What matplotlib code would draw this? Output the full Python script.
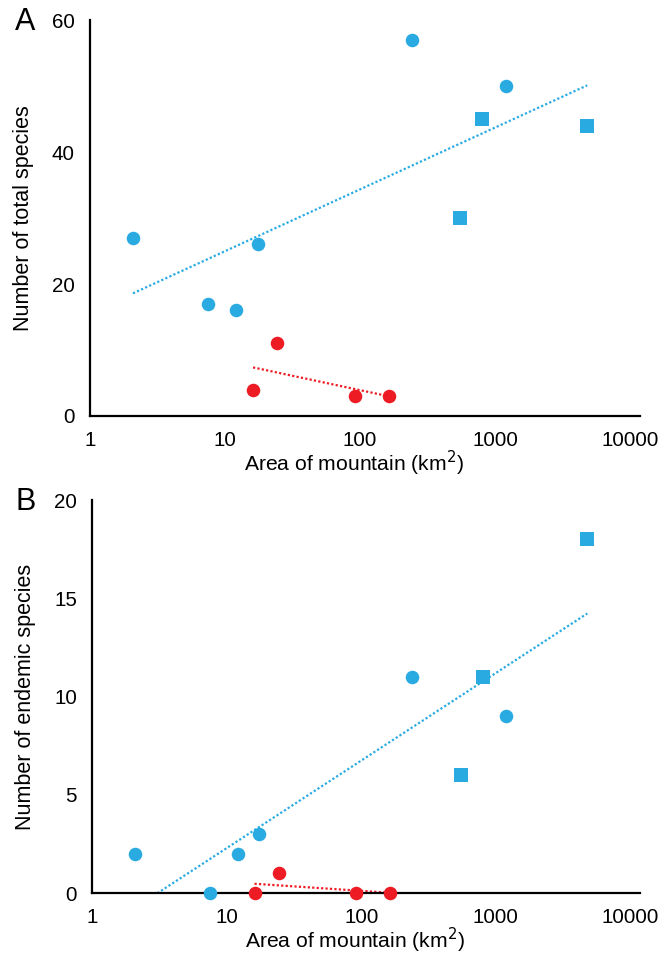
import numpy as np
import matplotlib.pyplot as plt

plt.rcParams['font.family'] = ['Liberation Sans', 'DejaVu Sans']

BLUE = '#29abe2'
RED = '#ed1c24'

# mountain areas (km2)
area_blue_circ = [2.08, 7.5, 12.1, 17.5, 240, 1200]
area_blue_sq = [800, 550, 4800]
area_red = [16.1, 24.3, 92, 164]

# panel A: total species
total_blue_circ = [27, 17, 16, 26, 57, 50]
total_blue_sq = [45, 30, 44]
total_red = [4, 11, 3, 3]

# panel B: endemic species
endemic_blue_circ = [2, 0, 2, 3, 11, 9]
endemic_blue_sq = [11, 6, 18]
endemic_red = [0, 1, 0, 0]

y_ticks_a = [0, 20, 40, 60]
y_ticks_b = [0, 5, 10, 15, 20]
x_ticks = [1, 10, 100, 1000, 10000]


def log_trend(ax, xs, ys, color):
    """Excel-style logarithmic trendline across the data range."""
    lx = np.log10(xs)
    slope, icpt = np.polyfit(lx, ys, 1)
    xx = np.array([min(xs), max(xs)])
    ax.plot(xx, icpt + slope * np.log10(xx), color=color, lw=1.6,
            ls=(0, (1, 1)), zorder=2)


def draw_panel(ax, circ, sq, red, yticks, ylabel, letter, letter_y):
    xb = area_blue_circ + area_blue_sq
    yb = circ + sq
    log_trend(ax, xb, yb, BLUE)
    log_trend(ax, area_red, red, RED)
    ax.scatter(area_blue_circ, circ, s=95, color=BLUE, marker='o', lw=0, zorder=3, clip_on=False)
    ax.scatter(area_blue_sq, sq, s=88, color=BLUE, marker='s', lw=0, zorder=3, clip_on=False)
    ax.scatter(area_red, red, s=95, color=RED, marker='o', lw=0, zorder=3, clip_on=False)

    ax.set_xscale('log')
    ax.set_xlim(1, 11800)
    ax.set_ylim(yticks[0], yticks[-1])
    ax.set_xticks(x_ticks)
    ax.set_xticklabels([str(t) for t in x_ticks])
    ax.set_yticks(yticks)
    ax.minorticks_off()
    ax.tick_params(length=0, labelsize=14.8, pad=11)
    for s in ['top', 'right']:
        ax.spines[s].set_visible(False)
    for s in ['left', 'bottom']:
        ax.spines[s].set_linewidth(1.6)
    ax.set_xlabel('Area of mountain (km$^2$)', fontsize=15.2)
    ax.xaxis.set_label_coords(0.48, -0.083)
    ax.set_ylabel(ylabel, fontsize=15.5, labelpad=13)
    fig.text(15 / 661, 1 - letter_y / 955, letter, fontsize=22,
             ha='left', va='center')


fig = plt.figure(figsize=(6.61, 9.55), dpi=100)
ax_a = fig.add_axes([0.1362, 0.5644, 0.832, 0.4146])
ax_b = fig.add_axes([0.1395, 0.0649, 0.8285, 0.4115])

draw_panel(ax_a, total_blue_circ, total_blue_sq, total_red, y_ticks_a,
           'Number of total species', 'A', 22)
draw_panel(ax_b, endemic_blue_circ, endemic_blue_sq, endemic_red, y_ticks_b,
           'Number of endemic species', 'B', 502)

fig.savefig('out.png', dpi=100)
